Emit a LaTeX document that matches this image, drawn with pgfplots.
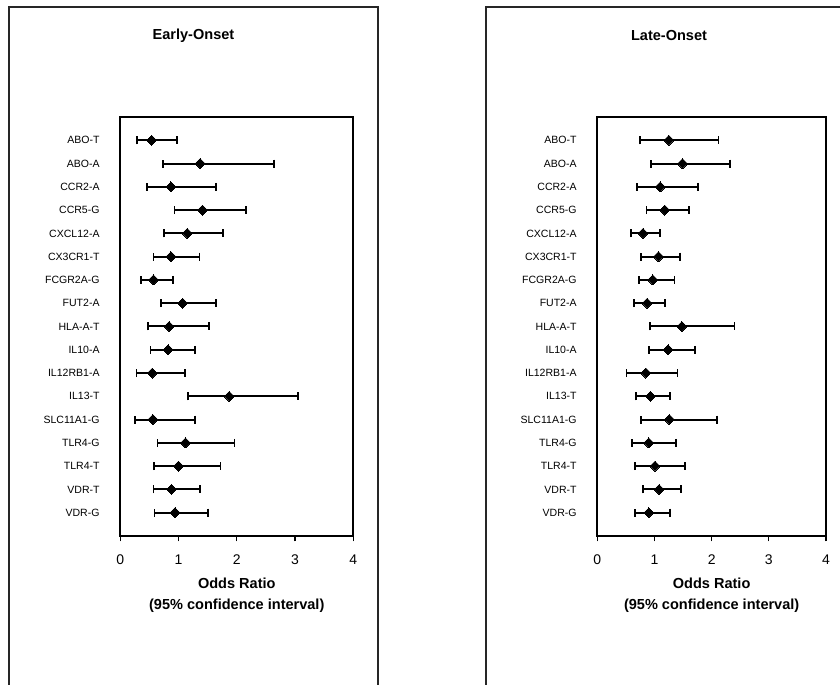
\documentclass[border=0pt]{standalone}
\usepackage{fontspec}
\setmainfont{Liberation Sans}
\usepackage{pgfplots}
\usepackage{pgfplotstable}
\pgfplotsset{compat=1.18}

% y  or  lo  hi   (rows top to bottom: ABO-T ... VDR-G)
\pgfplotstableread{
y  or   lo   hi
17 0.54 0.29 0.97
16 1.37 0.73 2.64
15 0.87 0.46 1.64
14 1.41 0.93 2.16
13 1.15 0.75 1.76
12 0.87 0.57 1.36
11 0.57 0.36 0.91
10 1.07 0.70 1.64
9  0.84 0.47 1.52
8  0.82 0.52 1.28
7  0.55 0.28 1.11
6  1.87 1.16 3.05
5  0.56 0.25 1.28
4  1.12 0.64 1.96
3  1.00 0.58 1.72
2  0.88 0.57 1.37
1  0.94 0.59 1.50
}\early

\pgfplotstableread{
y  or   lo   hi
17 1.25 0.75 2.12
16 1.49 0.94 2.32
15 1.10 0.69 1.76
14 1.18 0.86 1.60
13 0.80 0.59 1.09
12 1.07 0.77 1.44
11 0.97 0.73 1.35
10 0.87 0.64 1.18
9  1.48 0.92 2.40
8  1.24 0.91 1.71
7  0.85 0.51 1.40
6  0.93 0.68 1.27
5  1.26 0.76 2.09
4  0.90 0.60 1.38
3  1.01 0.66 1.53
2  1.08 0.80 1.46
1  0.90 0.66 1.27
}\late

\pgfplotsset{
  forest/.style={
    anchor=south west,
    scale only axis,
    height=314.25pt,
    xmin=0, xmax=4, ymin=0, ymax=18,
    xtick={0,...,4},
    ytick={1,...,17},
    yticklabels={VDR-G,VDR-T,TLR4-T,TLR4-G,SLC11A1-G,IL13-T,IL12RB1-A,IL10-A,HLA-A-T,FUT2-A,FCGR2A-G,CX3CR1-T,CXCL12-A,CCR5-G,CCR2-A,ABO-A,ABO-T},
    axis line style={line width=1.4pt},
    tick align=outside,
    xtick pos=left, ytick pos=left,
    major tick length=4pt,
    x tick style={black, line width=0.8pt},
    y tick style={draw=none},
    /pgf/number format/assume math mode=true,
    xticklabel style={font=\fontsize{10.5}{12}\selectfont, yshift=-6.5pt},
    yticklabel style={font=\fontsize{7.9}{9}\selectfont, anchor=east, xshift=-8pt},
    xlabel={Odds Ratio\\(95\% confidence interval)},
    xlabel style={at={(axis description cs:0.5,0)}, anchor=north, yshift=-28pt,
      align=center, font=\bfseries\fontsize{10.9}{15.75}\selectfont},
    clip=false,
  },
  ci/.style={black, only marks, mark=square*, mark size=2.65pt,
    mark options={rotate=45, fill=black, line width=0pt},
    error bars/.cd, x dir=both, x explicit,
    error bar style={line width=1.5pt},
    error mark=|,
    error mark options={line width=1.3pt, mark size=3pt}},
}

\begin{document}
\begin{tikzpicture}
\useasboundingbox (0,0) rectangle (630pt,513.75pt);
% outer panel frames
\draw[line width=1pt, black!85] (6.75pt,0pt) -- (6.75pt,508.5pt) -- (283.5pt,508.5pt) -- (283.5pt,0pt);
\draw[line width=1pt, black!85] (364.5pt,0pt) -- (364.5pt,508.5pt) -- (640pt,508.5pt);
\node[font=\bfseries\fontsize{10.9}{13}\selectfont] at (145.1pt,486.75pt) {Early-Onset};
\node[font=\bfseries\fontsize{10.9}{13}\selectfont] at (501.75pt,486.75pt) {Late-Onset};

\begin{axis}[forest, at={(90.2pt,111.75pt)}, width=174.75pt]
  \addplot[ci] table[x=or, y=y,
    x error plus expr=\thisrow{hi}-\thisrow{or},
    x error minus expr=\thisrow{or}-\thisrow{lo}] {\early};
\end{axis}

\begin{axis}[forest, at={(448pt,111.75pt)}, width=171.5pt]
  \addplot[ci] table[x=or, y=y,
    x error plus expr=\thisrow{hi}-\thisrow{or},
    x error minus expr=\thisrow{or}-\thisrow{lo}] {\late};
\end{axis}
\end{tikzpicture}
\end{document}
